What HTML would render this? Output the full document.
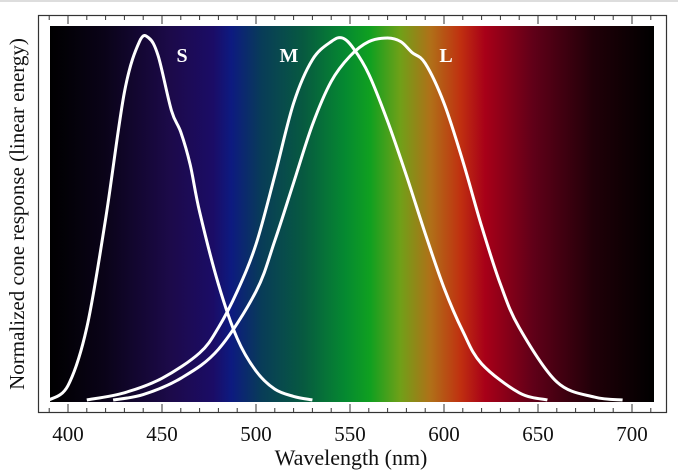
<!DOCTYPE html>
<html><head><meta charset="utf-8"><style>
html,body{margin:0;padding:0;background:#fff;}
svg{display:block;}
text{font-family:"Liberation Serif","DejaVu Serif",serif;}
</style></head><body>
<svg id="chart" width="678" height="474" viewBox="0 0 678 474" xmlns="http://www.w3.org/2000/svg">
<defs>
<linearGradient id="spec" x1="0" x2="1" y1="0" y2="0">
<stop offset="0" stop-color="#000"/>
<stop offset="0.09" stop-color="#0a0318"/>
<stop offset="0.2" stop-color="#1c0a4a"/>
<stop offset="0.27" stop-color="#1b0c66"/>
<stop offset="0.3" stop-color="#0d1a80"/>
<stop offset="0.35" stop-color="#083c58"/>
<stop offset="0.42" stop-color="#075a40"/>
<stop offset="0.49" stop-color="#058a30"/>
<stop offset="0.53" stop-color="#10a020"/>
<stop offset="0.58" stop-color="#70a018"/>
<stop offset="0.63" stop-color="#b07018"/>
<stop offset="0.68" stop-color="#c03010"/>
<stop offset="0.72" stop-color="#a80018"/>
<stop offset="0.8" stop-color="#600018"/>
<stop offset="0.9" stop-color="#200008"/>
<stop offset="1" stop-color="#000"/>
</linearGradient>
</defs>
<line x1="0" y1="1" x2="678" y2="1" stroke="#bbb"/>
<rect x="50" y="26" width="604" height="376" fill="url(#spec)"/>
<rect x="38.5" y="15.5" width="628" height="397" fill="none" stroke="#333" stroke-width="1.2"/>
<g id="ticks"></g>
<g id="curves"></g>
<text x="182" y="62" fill="#fff" font-size="20" font-weight="bold" text-anchor="middle">S</text>
<text x="289" y="62" fill="#fff" font-size="20" font-weight="bold" text-anchor="middle">M</text>
<text x="446" y="62" fill="#fff" font-size="20" font-weight="bold" text-anchor="middle">L</text>
<text x="351" y="465" font-size="22" text-anchor="middle" fill="#111">Wavelength (nm)</text>
<text transform="translate(24,214) rotate(-90)" font-size="21" text-anchor="middle" fill="#111">Normalized cone response (linear energy)</text>
</svg>
<script>
const tickLabels=[400,450,500,550,600,650,700];
const sWl=[390,400,410,420,430,438,443,448,455,460,465,470,480,490,500,510,520,530];
const sVal=[0,0.04,0.2,0.5,0.85,0.99,1.0,0.95,0.8,0.74,0.65,0.52,0.32,0.17,0.08,0.03,0.01,0];
const mWl=[410,430,450,470,480,490,500,510,520,530,540,546,552,560,570,580,590,600,610,620,640,655];
const mVal=[0,0.02,0.06,0.13,0.2,0.3,0.43,0.62,0.82,0.94,0.99,1.0,0.97,0.9,0.77,0.62,0.46,0.31,0.19,0.1,0.02,0];
const lWl=[424,440,460,480,500,510,520,530,540,550,560,570,577,583,590,600,610,620,630,640,660,680,695];
const lVal=[0,0.015,0.06,0.14,0.3,0.44,0.6,0.76,0.88,0.95,0.99,1.0,0.99,0.96,0.93,0.82,0.66,0.48,0.32,0.2,0.05,0.008,0];
const X=w=>68+(w-400)*1.88;
const Y=v=>400-v*362;
const NS="http://www.w3.org/2000/svg";
const tg=document.getElementById('ticks');
for(let w=390;w<=710;w+=10){
  const major=w%50===0;
  const len=major?8:4;
  for(const [y0,d] of [[412,-1],[16,1]]){
    const l=document.createElementNS(NS,'line');
    l.setAttribute('x1',X(w));l.setAttribute('x2',X(w));
    l.setAttribute('y1',y0);l.setAttribute('y2',y0+d*len);
    l.setAttribute('stroke','#333');l.setAttribute('stroke-width','1');
    
    
    tg.appendChild(l);
  }
}
tickLabels.forEach(w=>{
  const t=document.createElementNS(NS,'text');
  t.setAttribute('x',X(w));t.setAttribute('y',441);
  t.setAttribute('text-anchor','middle');t.setAttribute('font-size','21');t.setAttribute('fill','#111');
  t.textContent=w;
  
  
  tg.appendChild(t);
});
function path(ws,vs){
  const p=ws.map((w,i)=>[X(w),Y(vs[i])]);
  let d='M'+p[0][0]+','+p[0][1];
  for(let i=0;i<p.length-1;i++){
    const p0=p[i-1]||p[i],p1=p[i],p2=p[i+1],p3=p[i+2]||p2;
    const c1=[p1[0]+(p2[0]-p0[0])/6,p1[1]+(p2[1]-p0[1])/6];
    const c2=[p2[0]-(p3[0]-p1[0])/6,p2[1]-(p3[1]-p1[1])/6];
    d+=' C'+c1+' '+c2+' '+p2;
  }
  return d;
}
const cg=document.getElementById('curves');
[['s-curve',sWl,sVal],['m-curve',mWl,mVal],['l-curve',lWl,lVal]].forEach(([n,w,v])=>{
  const e=document.createElementNS(NS,'path');
  e.setAttribute('d',path(w,v));
  e.setAttribute('fill','none');e.setAttribute('stroke','#fff');e.setAttribute('stroke-width','3');
  
  
  cg.appendChild(e);
});
</script>
</body></html>
